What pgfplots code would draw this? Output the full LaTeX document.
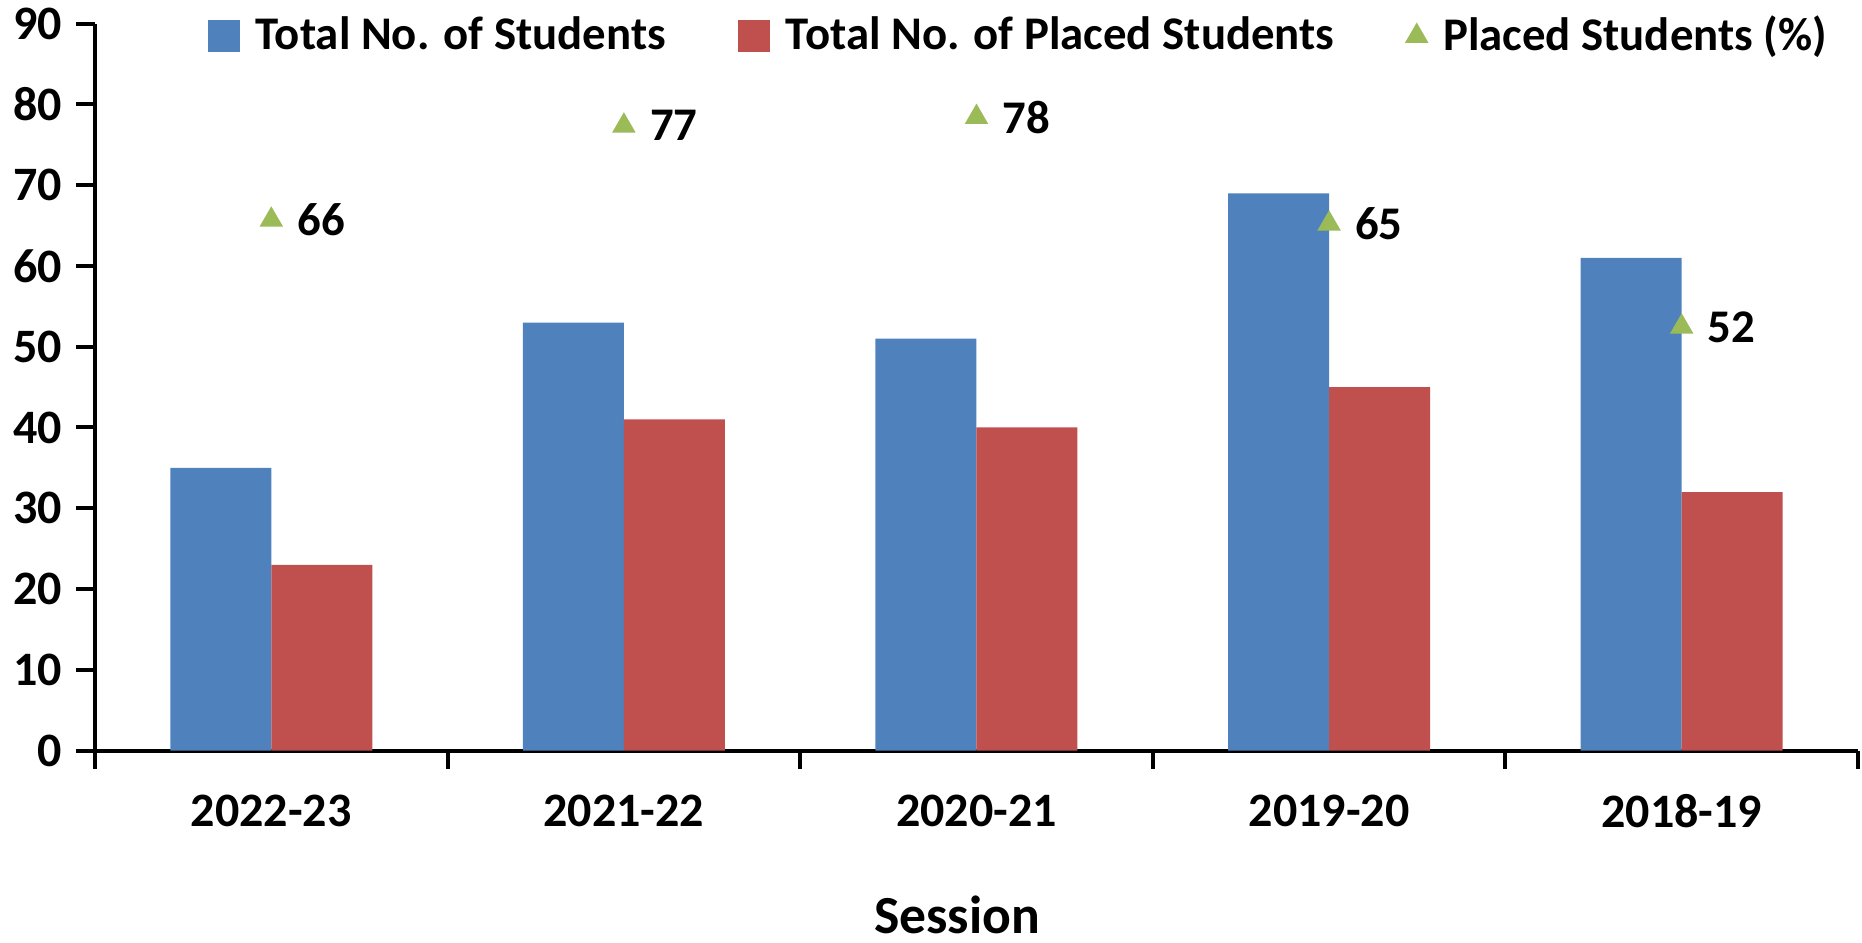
\documentclass[border=0pt]{standalone}
\usepackage{fontspec}
\setmainfont{Carlito}
\usepackage{pgfplots}
\pgfplotsset{compat=1.18}
\definecolor{cblue}{HTML}{4F81BD}
\definecolor{cred}{HTML}{C0504D}
\definecolor{cgreen}{HTML}{9BBB59}
\newcommand\ff{\fontsize{11.7pt}{14pt}\selectfont\bfseries}
\newcommand\tf{\fontsize{12pt}{14pt}\selectfont\bfseries}
\begin{document}
\begin{tikzpicture}
\begin{axis}[
  name=ax,
  scale only axis,
  width=440.75pt, height=181.7pt,
  xmin=-0.5, xmax=4.5, ymin=0, ymax=90,
  ytick={0,10,...,90},
  xtick={0,1,2,3,4},
  xticklabels={2022-23,2021-22,2020-21,2019-20,2018-19},
  minor xtick={-0.5,0.5,1.5,2.5,3.5,4.5},
  axis x line*=bottom, axis y line*=left,
  axis line style={line width=1pt, -},
  tick align=outside,
  tick style={black, line width=1pt},
  major tick length=4.75pt,
  minor tick length=4.5pt,
  major x tick style={draw=none},
  ticklabel style={font=\tf},
  /pgf/number format/assume math mode=true,
  xticklabel style={yshift=-2.8pt},
  xlabel={Session},
  xlabel style={font=\fontsize{13.4pt}{15pt}\selectfont\bfseries, at={(axis description cs:0.489,0)}, anchor=center, yshift=-41pt},
  legend style={at={(0.5255,0.983)}, anchor=center, draw=none, fill=none, font=\ff,
    legend columns=3, /tikz/every odd column/.append style={column sep=2pt},
    /tikz/every even column/.append style={column sep=16pt}},
  clip=false,
]
\addplot[ybar, bar width=25.25pt, bar shift=-12.625pt, fill=cblue, draw=none,
  legend image code/.code={\fill[cblue] (0pt,-4pt) rectangle (8pt,4pt);}]
  coordinates {(0,35) (1,53) (2,51) (3,69) (4,61)};
\addlegendentry{Total No. of Students}
\addplot[ybar, bar width=25.25pt, bar shift=12.625pt, fill=cred, draw=none,
  legend image code/.code={\fill[cred] (0pt,-4pt) rectangle (8pt,4pt);}]
  coordinates {(0,23) (1,41) (2,40) (3,45) (4,32)};
\addlegendentry{Total No. of Placed Students}
\addplot[only marks, mark=triangle*, mark size=3pt, color=cgreen,
  point meta=explicit symbolic, nodes near coords,
  nodes near coords style={font=\ff, text=black, anchor=west, xshift=3pt},
  legend image code/.code={\draw[cgreen, mark=triangle*, mark size=3pt, only marks] plot coordinates {(4pt,0pt)};}]
  coordinates {(0,65.71)[66] (1,77.36)[77] (2,78.43)[78] (3,65.22)[65] (4,52.46)[52]};
\addlegendentry{Placed Students (\%)}
\end{axis}
\pgfresetboundingbox
\path (ax.south west) ++(-23.75pt,-47.875pt) rectangle ++(465.5pt,235.5pt);
\end{tikzpicture}
\end{document}
